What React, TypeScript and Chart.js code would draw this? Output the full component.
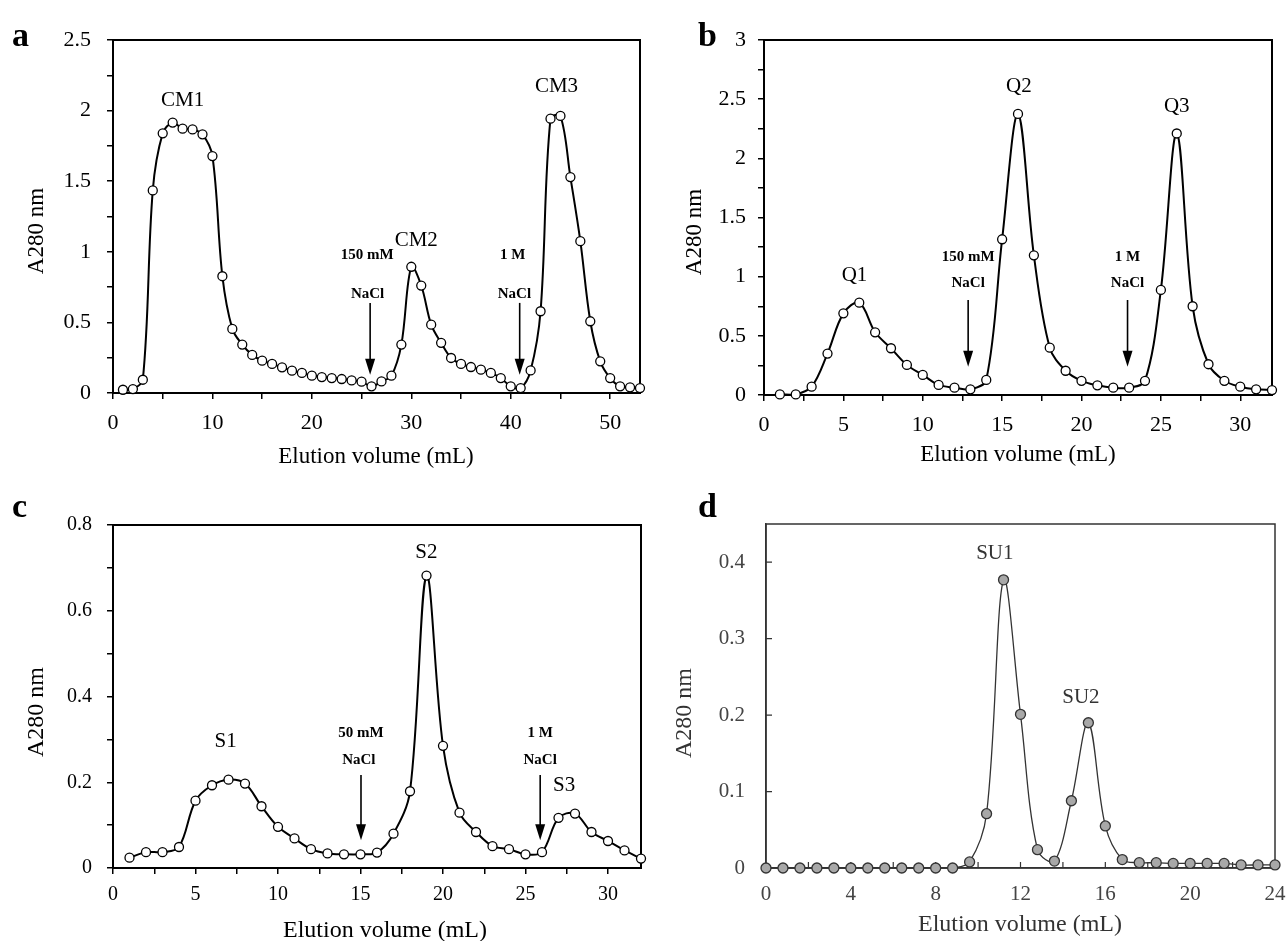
import React, { useEffect, useRef } from "react";
import { Chart, registerables } from "chart.js";

Chart.register(...registerables);

const SERIF = '"Liberation Serif", "Times New Roman", Times, serif';

// ---------- Data ----------
// Panel a: CM column
const cmX = [1, 2, 3, 4, 5, 6, 7, 8, 9, 10, 11, 12, 13, 14, 15, 16, 17, 18, 19, 20, 21, 22, 23, 24, 25, 26, 27, 28, 29, 30, 31, 32, 33, 34, 35, 36, 37, 38, 39, 40, 41, 42, 43, 44, 45, 46, 47, 48, 49, 50, 51, 52, 53];
const cmY = [0.023, 0.028, 0.094, 1.435, 1.839, 1.915, 1.872, 1.867, 1.832, 1.678, 0.827, 0.454, 0.343, 0.27, 0.229, 0.206, 0.182, 0.158, 0.142, 0.123, 0.113, 0.106, 0.099, 0.089, 0.08, 0.047, 0.082, 0.123, 0.343, 0.894, 0.761, 0.484, 0.355, 0.248, 0.206, 0.184, 0.165, 0.142, 0.106, 0.047, 0.035, 0.16, 0.579, 1.943, 1.962, 1.529, 1.075, 0.508, 0.224, 0.106, 0.047, 0.04, 0.035];

// Panel b: Q column
const qX = [1, 2, 3, 4, 5, 6, 7, 8, 9, 10, 11, 12, 13, 14, 15, 16, 17, 18, 19, 20, 21, 22, 23, 24, 25, 26, 27, 28, 29, 30, 31, 32];
const qY = [0.005, 0.005, 0.07, 0.35, 0.69, 0.78, 0.53, 0.395, 0.254, 0.17, 0.085, 0.062, 0.048, 0.127, 1.316, 2.375, 1.18, 0.4, 0.205, 0.12, 0.082, 0.062, 0.062, 0.12, 0.888, 2.21, 0.75, 0.26, 0.12, 0.07, 0.048, 0.042];

// Panel c: S column
const sX = [1, 2, 3, 4, 5, 6, 7, 8, 9, 10, 11, 12, 13, 14, 15, 16, 17, 18, 19, 20, 21, 22, 23, 24, 25, 26, 27, 28, 29, 30, 31, 32];
const sY = [0.024, 0.037, 0.037, 0.049, 0.157, 0.193, 0.206, 0.197, 0.144, 0.096, 0.069, 0.044, 0.034, 0.032, 0.032, 0.036, 0.08, 0.179, 0.682, 0.285, 0.129, 0.084, 0.051, 0.044, 0.032, 0.037, 0.117, 0.127, 0.084, 0.063, 0.041, 0.022];

// Panel d: SU column
const suX = [0, 0.8, 1.6, 2.4, 3.2, 4, 4.8, 5.6, 6.4, 7.2, 8, 8.8, 9.6, 10.4, 11.2, 12, 12.8, 13.6, 14.4, 15.2, 16, 16.8, 17.6, 18.4, 19.2, 20, 20.8, 21.6, 22.4, 23.2, 24];
const suY = [0, 0, 0, 0, 0, 0, 0, 0, 0, 0, 0, 0, 0.008, 0.071, 0.377, 0.201, 0.024, 0.009, 0.088, 0.19, 0.055, 0.011, 0.007, 0.007, 0.006, 0.006, 0.006, 0.006, 0.004, 0.004, 0.004];

// Tick label spacing
const aXLabelEvery = 10, aYLabelEvery = 0.5;
const bXLabelEvery = 5, bYLabelEvery = 0.5;
const cXLabelEvery = 5, cYLabelEvery = 0.2;
const dXLabelEvery = 4, dYLabelEvery = 0.1;

const Y_TITLE = "A280 nm";
const X_TITLE = "Elution volume (mL)";

// ---------- Types ----------
type Note = { text: string; x: number; y: number; size: number; bold?: boolean };
type Arrow = { x: number; y0: number; y1: number };
type Deco = {
  letter: string; letterX: number; letterY: number;
  yTitleX: number; yTitleY: number; xTitleX: number; xTitleY: number; titleSize: number;
  color: string; notes: Note[]; arrows: Arrow[]; innerTicks: boolean; frameWidth: number;
};
type Spec = {
  left: number; top: number; w: number; h: number;
  padTop: number; padRight: number; yWidth: number; xHeight: number;
  xs: number[]; ys: number[];
  xMin: number; xMax: number; xStep: number; xEvery: number;
  yMin: number; yMax: number; yStep: number; yEvery: number;
  tickSize: number; tickColor: string; yTickPad: number; xTickPad: number;
  lineColor: string; lineWidth: number;
  pRadius: number; pFill: string; pBorder: string; pBorderWidth: number;
  deco: Deco;
};

const labelIf = (every: number) => (v: number | string) => {
  const n = Number(v);
  const k = n / every;
  return Math.abs(k - Math.round(k)) < 1e-6 ? String(parseFloat(n.toFixed(3))) : "";
};

function makeDecoPlugin(d: Deco) {
  return {
    id: "deco",
    beforeDatasetsDraw(chart: any) {
      const { ctx, chartArea: a, scales } = chart;
      ctx.save();
      ctx.strokeStyle = d.color;
      ctx.lineWidth = d.frameWidth;
      ctx.strokeRect(a.left, a.top, a.right - a.left, a.bottom - a.top);
      if (d.innerTicks) {
        ctx.lineWidth = 1.2;
        ctx.beginPath();
        for (const t of scales.x.ticks) {
          const px = scales.x.getPixelForValue(t.value);
          ctx.moveTo(px, a.bottom);
          ctx.lineTo(px, a.bottom - 6);
        }
        for (const t of scales.y.ticks) {
          const py = scales.y.getPixelForValue(t.value);
          ctx.moveTo(a.left, py);
          ctx.lineTo(a.left + 6, py);
        }
        ctx.stroke();
      }
      ctx.restore();
    },
    afterDatasetsDraw(chart: any) {
      const { ctx, scales } = chart;
      const xs = scales.x, ys = scales.y;
      ctx.save();
      ctx.fillStyle = d.color;
      ctx.strokeStyle = d.color;
      ctx.textAlign = "center";
      ctx.textBaseline = "middle";
      for (const n of d.notes) {
        ctx.font = `${n.bold ? "bold " : ""}${n.size}px ${SERIF}`;
        ctx.fillText(n.text, xs.getPixelForValue(n.x), ys.getPixelForValue(n.y));
      }
      for (const ar of d.arrows) {
        const px = xs.getPixelForValue(ar.x);
        const p0 = ys.getPixelForValue(ar.y0);
        const p1 = ys.getPixelForValue(ar.y1);
        const head = 16, half = 5;
        ctx.lineWidth = 1.6;
        ctx.beginPath();
        ctx.moveTo(px, p0);
        ctx.lineTo(px, p1 - head + 2);
        ctx.stroke();
        ctx.beginPath();
        ctx.moveTo(px - half, p1 - head);
        ctx.lineTo(px + half, p1 - head);
        ctx.lineTo(px, p1);
        ctx.closePath();
        ctx.fill();
      }
      // axis titles
      ctx.font = `${d.titleSize}px ${SERIF}`;
      ctx.fillText(X_TITLE, d.xTitleX, d.xTitleY);
      ctx.save();
      ctx.translate(d.yTitleX, d.yTitleY);
      ctx.rotate(-Math.PI / 2);
      ctx.fillText(Y_TITLE, 0, 0);
      ctx.restore();
      // panel letter
      ctx.fillStyle = "#000";
      ctx.font = `bold 34px ${SERIF}`;
      ctx.textAlign = "left";
      ctx.textBaseline = "alphabetic";
      ctx.fillText(d.letter, d.letterX, d.letterY);
      ctx.restore();
    },
  };
}

function buildConfig(s: Spec): any {
  const outTicks = !s.deco.innerTicks;
  const grid = {
    display: true,
    drawOnChartArea: false,
    drawTicks: outTicks,
    tickLength: 6,
    color: s.deco.color,
    lineWidth: 1.5,
  };
  const border = { display: true, color: s.deco.color, width: s.deco.frameWidth };
  return {
    type: "line",
    data: {
      datasets: [
        {
          data: s.xs.map((x, i) => ({ x, y: s.ys[i] })),
          borderColor: s.lineColor,
          borderWidth: s.lineWidth,
          tension: 0.35,
          fill: false,
          clip: false,
          pointRadius: s.pRadius,
          pointBackgroundColor: s.pFill,
          pointBorderColor: s.pBorder,
          pointBorderWidth: s.pBorderWidth,
        },
      ],
    },
    options: {
      responsive: false,
      animation: false,
      devicePixelRatio: 1,
      events: [],
      layout: { padding: { top: s.padTop, right: s.padRight, left: 0, bottom: 0 } },
      plugins: { legend: { display: false }, tooltip: { enabled: false } },
      scales: {
        x: {
          type: "linear",
          min: s.xMin,
          max: s.xMax,
          grid,
          border,
          ticks: {
            stepSize: s.xStep,
            includeBounds: false,
            autoSkip: false,
            maxRotation: 0,
            padding: s.xTickPad,
            color: s.tickColor,
            font: { family: SERIF, size: s.tickSize },
            callback: labelIf(s.xEvery),
          },
          afterFit: (sc: any) => {
            sc.height = s.xHeight;
            sc.paddingLeft = 0;
            sc.paddingRight = 0;
          },
        },
        y: {
          type: "linear",
          min: s.yMin,
          max: s.yMax,
          grid,
          border,
          ticks: {
            stepSize: s.yStep,
            includeBounds: false,
            autoSkip: false,
            padding: s.yTickPad,
            color: s.tickColor,
            font: { family: SERIF, size: s.tickSize },
            callback: labelIf(s.yEvery),
          },
          afterFit: (sc: any) => {
            sc.width = s.yWidth;
            sc.paddingTop = 0;
            sc.paddingBottom = 0;
          },
        },
      },
    },
    plugins: [makeDecoPlugin(s.deco)],
  };
}

const saltNotes = (x1: number, x1b: number, t1: string, x2: number, x2b: number, yTop: number, yBot: number, size: number): Note[] => [
  { text: t1, x: x1, y: yTop, size, bold: true },
  { text: "NaCl", x: x1b, y: yBot, size, bold: true },
  { text: "1 M", x: x2, y: yTop, size, bold: true },
  { text: "NaCl", x: x2b, y: yBot, size, bold: true },
];

const panelA: Spec = {
  left: 0, top: 0, w: 660, h: 470, padTop: 40, padRight: 20, yWidth: 113, xHeight: 77,
  xs: cmX, ys: cmY, xMin: 0, xMax: 53, xStep: 5, xEvery: aXLabelEvery,
  yMin: 0, yMax: 2.5, yStep: 0.25, yEvery: aYLabelEvery,
  tickSize: 22, tickColor: "#000", yTickPad: 16, xTickPad: 11,
  lineColor: "#000", lineWidth: 2, pRadius: 4.5, pFill: "#fff", pBorder: "#000", pBorderWidth: 1.3,
  deco: {
    letter: "a", letterX: 12, letterY: 46,
    yTitleX: 37, yTitleY: 231, xTitleX: 376, xTitleY: 457, titleSize: 23,
    color: "#000", frameWidth: 2, innerTicks: false,
    notes: [
      { text: "CM1", x: 7.0, y: 2.07, size: 21 },
      { text: "CM2", x: 30.5, y: 1.08, size: 21 },
      { text: "CM3", x: 44.6, y: 2.17, size: 21 },
      ...saltNotes(25.56, 25.6, "150 mM", 40.2, 40.37, 0.976, 0.697, 15),
    ],
    arrows: [
      { x: 25.86, y0: 0.638, y1: 0.13 },
      { x: 40.9, y0: 0.638, y1: 0.13 },
    ],
  },
};

const panelB: Spec = {
  left: 660, top: 0, w: 628, h: 470, padTop: 40, padRight: 16, yWidth: 104, xHeight: 75,
  xs: qX, ys: qY, xMin: 0, xMax: 32, xStep: 2.5, xEvery: bXLabelEvery,
  yMin: 0, yMax: 3, yStep: 0.25, yEvery: bYLabelEvery,
  tickSize: 22, tickColor: "#000", yTickPad: 12, xTickPad: 11,
  lineColor: "#000", lineWidth: 2, pRadius: 4.5, pFill: "#fff", pBorder: "#000", pBorderWidth: 1.3,
  deco: {
    letter: "b", letterX: 38, letterY: 46,
    yTitleX: 35, yTitleY: 232, xTitleX: 358, xTitleY: 455, titleSize: 23,
    color: "#000", frameWidth: 2, innerTicks: false,
    notes: [
      { text: "Q1", x: 5.7, y: 1.01, size: 21 },
      { text: "Q2", x: 16.05, y: 2.61, size: 21 },
      { text: "Q3", x: 26.0, y: 2.44, size: 21 },
      ...saltNotes(12.86, 12.86, "150 mM", 22.9, 22.9, 1.169, 0.944, 15),
    ],
    arrows: [
      { x: 12.86, y0: 0.803, y1: 0.239 },
      { x: 22.9, y0: 0.803, y1: 0.239 },
    ],
  },
};

const panelC: Spec = {
  left: 0, top: 470, w: 660, h: 471, padTop: 55, padRight: 19, yWidth: 113, xHeight: 73,
  xs: sX, ys: sY, xMin: 0, xMax: 32, xStep: 2.5, xEvery: cXLabelEvery,
  yMin: 0, yMax: 0.8, yStep: 0.1, yEvery: cYLabelEvery,
  tickSize: 20, tickColor: "#000", yTickPad: 15, xTickPad: 9,
  lineColor: "#000", lineWidth: 2, pRadius: 4.5, pFill: "#fff", pBorder: "#000", pBorderWidth: 1.3,
  deco: {
    letter: "c", letterX: 12, letterY: 47,
    yTitleX: 37, yTitleY: 242, xTitleX: 385, xTitleY: 461, titleSize: 24,
    color: "#000", frameWidth: 2, innerTicks: false,
    notes: [
      { text: "S1", x: 6.83, y: 0.294, size: 21 },
      { text: "S2", x: 18.99, y: 0.735, size: 21 },
      { text: "S3", x: 27.34, y: 0.192, size: 21 },
      ...saltNotes(15.03, 14.9, "50 mM", 25.89, 25.89, 0.314, 0.252, 15),
    ],
    arrows: [
      { x: 15.03, y0: 0.217, y1: 0.065 },
      { x: 25.89, y0: 0.217, y1: 0.065 },
    ],
  },
};

const panelD: Spec = {
  left: 660, top: 470, w: 628, h: 471, padTop: 54, padRight: 13, yWidth: 106, xHeight: 73,
  xs: suX, ys: suY, xMin: 0, xMax: 24, xStep: 2, xEvery: dXLabelEvery,
  yMin: 0, yMax: 0.45, yStep: 0.1, yEvery: dYLabelEvery,
  tickSize: 21, tickColor: "#444", yTickPad: 21, xTickPad: 14,
  lineColor: "#333", lineWidth: 1.3, pRadius: 5, pFill: "#a8a8a8", pBorder: "#333", pBorderWidth: 1.3,
  deco: {
    letter: "d", letterX: 38, letterY: 47,
    yTitleX: 25, yTitleY: 243, xTitleX: 360, xTitleY: 455, titleSize: 24,
    color: "#333", frameWidth: 1.5, innerTicks: true,
    notes: [
      { text: "SU1", x: 10.79, y: 0.412, size: 21 },
      { text: "SU2", x: 14.85, y: 0.223, size: 21 },
    ],
    arrows: [],
  },
};

function Panel({ spec }: { spec: Spec }) {
  const ref = useRef<HTMLCanvasElement>(null);
  useEffect(() => {
    const chart = new Chart(ref.current as HTMLCanvasElement, buildConfig(spec));
    return () => chart.destroy();
  }, [spec]);
  return (
    <canvas
      ref={ref}
      width={spec.w}
      height={spec.h}
      style={{ position: "absolute", left: spec.left, top: spec.top, width: spec.w, height: spec.h }}
    />
  );
}

export default function App() {
  return (
    <div style={{ position: "absolute", left: 0, top: 0, width: 1288, height: 941, background: "#fff", overflow: "hidden" }}>
      <Panel spec={panelA} />
      <Panel spec={panelB} />
      <Panel spec={panelC} />
      <Panel spec={panelD} />
    </div>
  );
}
